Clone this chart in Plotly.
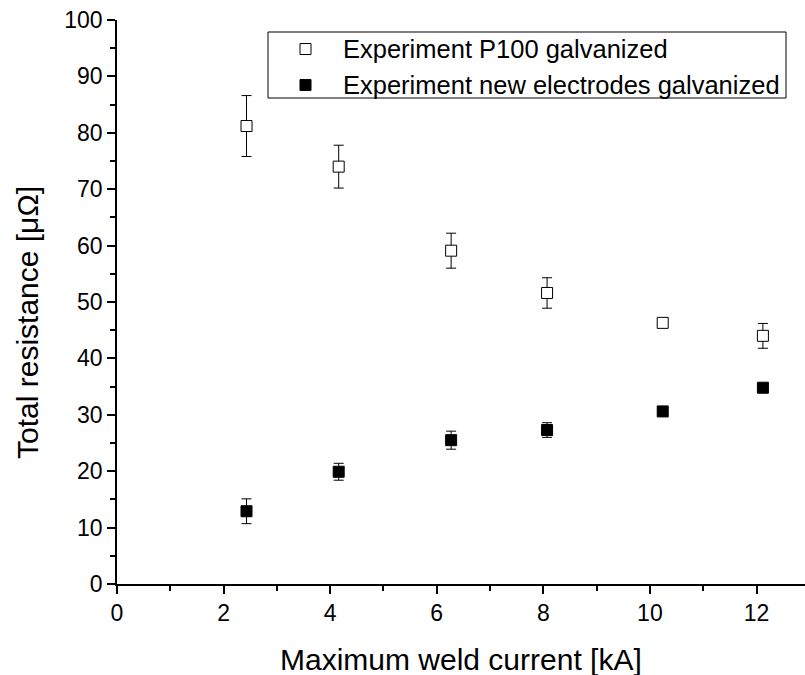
import plotly.graph_objects as go

# Data
current_p100 = [2.43, 4.16, 6.27, 8.07, 10.24, 12.12]
resist_p100 = [81.2, 74.0, 59.1, 51.6, 46.3, 44.0]
err_p100 = [5.4, 3.8, 3.1, 2.7, 0.6, 2.2]

current_new = [2.43, 4.16, 6.27, 8.07, 10.24, 12.12]
resist_new = [12.9, 19.9, 25.5, 27.3, 30.6, 34.8]
err_new = [2.2, 1.5, 1.6, 1.3, 0.4, 0.3]

series_names = ["Experiment P100 galvanized", "Experiment new electrodes galvanized"]

x_ticks = [0, 2, 4, 6, 8, 10, 12]
y_ticks = [0, 10, 20, 30, 40, 50, 60, 70, 80, 90, 100]

x_title = "Maximum weld current [kA]"
y_title = "Total resistance [μΩ]"

FONT = "Liberation Sans, Arial, sans-serif"

# plot area in pixels (for converting legend layout positions to paper coords)
L, R, T, B = 117, 805, 20, 584
def px(x):
    return (x - L) / (R - L)
def py(y):
    return (B - y) / (B - T)

fig = go.Figure()
fig.add_trace(go.Scatter(
    x=current_p100, y=resist_p100, mode="markers",
    name=series_names[0],
    marker=dict(symbol="square", size=11, color="white",
                line=dict(color="black", width=1)),
    error_y=dict(type="data", array=err_p100, visible=True,
                 color="black", thickness=1, width=5),
))
fig.add_trace(go.Scatter(
    x=current_new, y=resist_new, mode="markers",
    name=series_names[1],
    marker=dict(symbol="square", size=11, color="black",
                line=dict(color="black", width=1)),
    error_y=dict(type="data", array=err_new, visible=True,
                 color="black", thickness=1, width=5),
))

# Legend drawn as a framed box with key squares and text
legend_rows = [49, 85]
legend_fill = ["white", "black"]
shapes = [dict(type="rect", xref="paper", yref="paper",
               x0=px(268), x1=px(786), y0=py(98), y1=py(32),
               line=dict(color="black", width=1), fillcolor="white", layer="above")]
annotations = []
for row, fill, name in zip(legend_rows, legend_fill, series_names):
    shapes.append(dict(type="rect", xref="paper", yref="paper",
                       x0=px(300), x1=px(311), y0=py(row + 5.5), y1=py(row - 5.5),
                       line=dict(color="black", width=1), fillcolor=fill, layer="above"))
    annotations.append(dict(text=name, xref="paper", yref="paper", x=px(341), y=py(row),
                            xanchor="left", yanchor="middle", showarrow=False,
                            font=dict(size=25.5, family=FONT, color="black")))

annotations += [
    dict(text=x_title, xref="paper", yref="paper", x=0.5, y=py(641),
         xanchor="center", yanchor="top", showarrow=False,
         font=dict(size=30, family=FONT, color="black")),
    dict(text=y_title, xref="paper", yref="paper", x=px(27), y=py(323),
         xanchor="center", yanchor="middle", showarrow=False, textangle=-90,
         font=dict(size=30, family=FONT, color="black")),
]

fig.update_layout(
    width=805, height=675,
    margin=dict(l=L, r=805 - R, t=T, b=675 - B),
    paper_bgcolor="white", plot_bgcolor="white",
    font=dict(family=FONT, color="black"),
    showlegend=False,
    xaxis=dict(
        range=[0, 12.91], tickvals=x_ticks, ticktext=[str(v) for v in x_ticks],
        showgrid=False, zeroline=False,
        showline=True, linecolor="black", linewidth=1.5,
        ticks="outside", ticklen=8, tickwidth=1.5, tickcolor="black",
        tickfont=dict(size=23, family=FONT),
        minor=dict(dtick=1, tick0=0, ticks="outside", ticklen=5,
                   tickwidth=1.5, tickcolor="black", showgrid=False),
    ),
    yaxis=dict(
        range=[0, 100], tickvals=y_ticks, ticktext=[str(v) for v in y_ticks],
        showgrid=False, zeroline=False,
        showline=True, linecolor="black", linewidth=1.5,
        ticks="outside", ticklen=8, tickwidth=1.5, tickcolor="black",
        tickfont=dict(size=23, family=FONT),
        minor=dict(dtick=5, tick0=0, ticks="outside", ticklen=5,
                   tickwidth=1.5, tickcolor="black", showgrid=False),
    ),
    shapes=shapes,
    annotations=annotations,
)

fig.write_html("out.html")
